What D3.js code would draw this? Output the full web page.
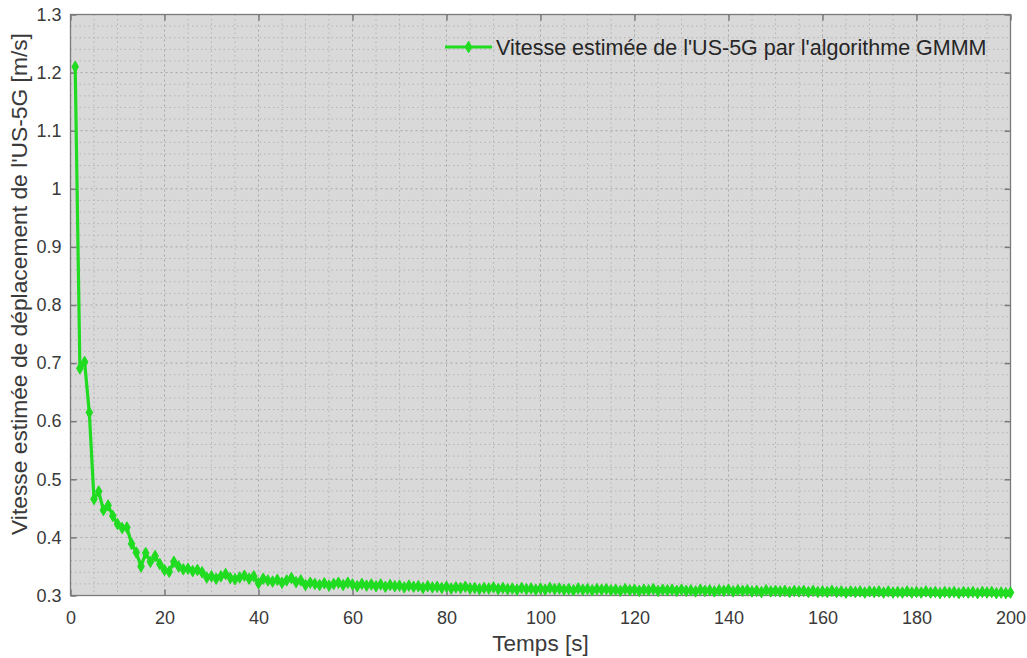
<!DOCTYPE html>
<html>
<head>
<meta charset="utf-8">
<script src="https://cdn.jsdelivr.net/npm/d3@7"></script>
<style>
  html, body { margin: 0; padding: 0; background: #ffffff; }
  svg { display: block; font-family: "Liberation Sans", Arial, sans-serif; }
</style>
</head>
<body>
<svg id="chart" width="1027" height="658"></svg>
<script>
// Estimated speed of the US-5G (GMMM algorithm), one sample per second
const timeSteps = d3.range(1, 201);
const speedValues = [
  1.210, 0.691, 0.702, 0.615, 0.466, 0.479, 0.447, 0.455, 0.437, 0.423,
  0.416, 0.417, 0.389, 0.374, 0.350, 0.373, 0.358, 0.368, 0.354, 0.344,
  0.341, 0.358, 0.350, 0.345, 0.346, 0.342, 0.344, 0.340, 0.331, 0.333,
  0.329, 0.333, 0.337, 0.330, 0.328, 0.331, 0.334, 0.329, 0.333, 0.321,
  0.329, 0.326, 0.324, 0.327, 0.322, 0.326, 0.330, 0.323, 0.326, 0.318,
  0.322, 0.320, 0.318, 0.321, 0.317, 0.320, 0.322, 0.318, 0.322, 0.319,
  0.316, 0.320, 0.317, 0.319, 0.316, 0.319, 0.315, 0.318, 0.316, 0.317,
  0.314, 0.317, 0.315, 0.316, 0.313, 0.316, 0.314, 0.315, 0.313, 0.315,
  0.312, 0.314, 0.313, 0.315, 0.312, 0.313, 0.311, 0.313, 0.312, 0.314,
  0.311, 0.313, 0.311, 0.312, 0.310, 0.313, 0.311, 0.312, 0.310, 0.312,
  0.310, 0.313, 0.311, 0.312, 0.310, 0.311, 0.309, 0.312, 0.310, 0.311,
  0.309, 0.311, 0.310, 0.311, 0.309, 0.310, 0.308, 0.311, 0.309, 0.310,
  0.308, 0.310, 0.309, 0.311, 0.308, 0.310, 0.309, 0.310, 0.308, 0.310,
  0.308, 0.309, 0.307, 0.310, 0.308, 0.309, 0.307, 0.309, 0.308, 0.310,
  0.307, 0.309, 0.308, 0.309, 0.307, 0.308, 0.306, 0.309, 0.307, 0.308,
  0.307, 0.308, 0.306, 0.308, 0.307, 0.308, 0.306, 0.308, 0.306, 0.307,
  0.306, 0.308, 0.306, 0.307, 0.305, 0.307, 0.306, 0.307, 0.305, 0.307,
  0.306, 0.307, 0.305, 0.307, 0.305, 0.306, 0.305, 0.307, 0.305, 0.306,
  0.305, 0.307, 0.305, 0.306, 0.304, 0.306, 0.305, 0.306, 0.304, 0.306,
  0.305, 0.306, 0.304, 0.306, 0.305, 0.306, 0.304, 0.305, 0.304, 0.305
];
const xTicks = [0, 20, 40, 60, 80, 100, 120, 140, 160, 180, 200];
const yTicks = [0.3, 0.4, 0.5, 0.6, 0.7, 0.8, 0.9, 1, 1.1, 1.2, 1.3];
const xMinorTicks = d3.range(0, 201, 5);
const yMinorTicks = d3.range(30, 131, 2).map(v => v / 100);
const seriesLabel = "Vitesse estimée de l'US-5G par l'algorithme GMMM";
const xTitle = "Temps [s]";
const yTitle = "Vitesse estimée de déplacement de l'US-5G [m/s]";

const points = timeSteps.map((t, i) => ({ t, v: speedValues[i] }));

const svg = d3.select("#chart");
const plot = { left: 70.5, top: 14.5, right: 1010.5, bottom: 595.5 };
const W = plot.right - plot.left, H = plot.bottom - plot.top;

const x = d3.scaleLinear().domain([0, 200]).range([plot.left, plot.right]);
const y = d3.scaleLinear().domain([0.3, 1.3]).range([plot.bottom, plot.top]);

const lineColor = "#20dc20";
const axisColor = "#7a7a7a";
const textColor = "#3a3a3a";

// axes background
svg.append("rect")
  .attr("x", plot.left).attr("y", plot.top)
  .attr("width", W).attr("height", H)
  .attr("fill", "#d9d9d9");

// minor grid
const grid = svg.append("g");
grid.selectAll(".vminor").data(xMinorTicks.filter(d => d % 20 !== 0)).join("line")
  .attr("x1", d => x(d)).attr("x2", d => x(d))
  .attr("y1", plot.top).attr("y2", plot.bottom)
  .attr("stroke", "#b4b4b4").attr("stroke-width", 1).attr("stroke-dasharray", "1.5,3");
grid.selectAll(".hminor").data(yMinorTicks.filter(d => Math.round(d * 100) % 10 !== 0)).join("line")
  .attr("y1", d => y(d)).attr("y2", d => y(d))
  .attr("x1", plot.left).attr("x2", plot.right)
  .attr("stroke", "#b4b4b4").attr("stroke-width", 1).attr("stroke-dasharray", "1.5,3");
// major grid
grid.selectAll(".vmajor").data(xTicks.slice(1, -1)).join("line")
  .attr("x1", d => x(d)).attr("x2", d => x(d))
  .attr("y1", plot.top).attr("y2", plot.bottom)
  .attr("stroke", "#a6a6a6").attr("stroke-width", 1).attr("stroke-dasharray", "2,3");
grid.selectAll(".hmajor").data(yTicks.slice(1, -1)).join("line")
  .attr("y1", d => y(d)).attr("y2", d => y(d))
  .attr("x1", plot.left).attr("x2", plot.right)
  .attr("stroke", "#a6a6a6").attr("stroke-width", 1).attr("stroke-dasharray", "2,3");

// axes with inward ticks
const fmt = d => d3.format("~g")(d);
const xAxis = svg.append("g").attr("transform", `translate(0,${plot.bottom})`)
  .call(d3.axisBottom(x).tickValues(xTicks).tickFormat(fmt).tickSizeInner(-6).tickSizeOuter(0).tickPadding(16));
const xAxisTop = svg.append("g").attr("transform", `translate(0,${plot.top})`)
  .call(d3.axisTop(x).tickValues(xTicks).tickFormat("").tickSizeInner(-6).tickSizeOuter(0));
const yAxis = svg.append("g").attr("transform", `translate(${plot.left},0)`)
  .call(d3.axisLeft(y).tickValues(yTicks).tickFormat(fmt).tickSizeInner(-6).tickSizeOuter(0).tickPadding(9));
const yAxisRight = svg.append("g").attr("transform", `translate(${plot.right},0)`)
  .call(d3.axisRight(y).tickValues(yTicks).tickFormat("").tickSizeInner(-6).tickSizeOuter(0));

[xAxis, xAxisTop, yAxis, yAxisRight].forEach(g => {
  g.select(".domain").remove();
  g.selectAll(".tick line").attr("stroke", axisColor).attr("stroke-width", 1.5);
  g.selectAll("text").attr("fill", textColor).attr("font-size", 18)
    .attr("font-family", "'Liberation Sans', Arial, sans-serif");
});

// box
svg.append("rect")
  .attr("x", plot.left).attr("y", plot.top)
  .attr("width", W).attr("height", H)
  .attr("fill", "none").attr("stroke", axisColor).attr("stroke-width", 1.3);

// series
svg.append("clipPath").attr("id", "plotclip").append("rect")
  .attr("x", plot.left - 6).attr("y", plot.top - 6).attr("width", W + 12).attr("height", H + 12);
const series = svg.append("g").attr("clip-path", "url(#plotclip)");
series.append("path").datum(points)
  .attr("d", d3.line().x(d => x(d.t)).y(d => y(d.v)))
  .attr("fill", "none").attr("stroke", lineColor).attr("stroke-width", 3.2)
  .attr("stroke-linejoin", "round");
const diamond = d3.symbol().type(d3.symbolDiamond).size(38);
series.selectAll(".mk").data(points).join("path")
  .attr("transform", d => `translate(${x(d.t)},${y(d.v)})`)
  .attr("d", diamond)
  .attr("fill", lineColor).attr("stroke", lineColor).attr("stroke-width", 1);

// axis titles
svg.append("text")
  .attr("x", (plot.left + plot.right) / 2).attr("y", 651)
  .attr("text-anchor", "middle").attr("fill", textColor).attr("font-size", 22.5)
  .text(xTitle);
svg.append("text")
  .attr("transform", `translate(27,284) rotate(-90)`)
  .attr("text-anchor", "middle").attr("fill", textColor).attr("font-size", 22.8)
  .text(yTitle);

// legend
const lg = svg.append("g").attr("transform", "translate(445,47)");
lg.append("line").attr("x1", 0).attr("x2", 47).attr("y1", 0).attr("y2", 0)
  .attr("stroke", lineColor).attr("stroke-width", 3);
lg.append("path").attr("transform", "translate(23.5,0)").attr("d", diamond)
  .attr("fill", lineColor).attr("stroke", lineColor);
lg.append("text").attr("x", 51).attr("y", 8)
  .attr("fill", "#262626").attr("font-size", 21.5).text(seriesLabel);
</script>
</body>
</html>
